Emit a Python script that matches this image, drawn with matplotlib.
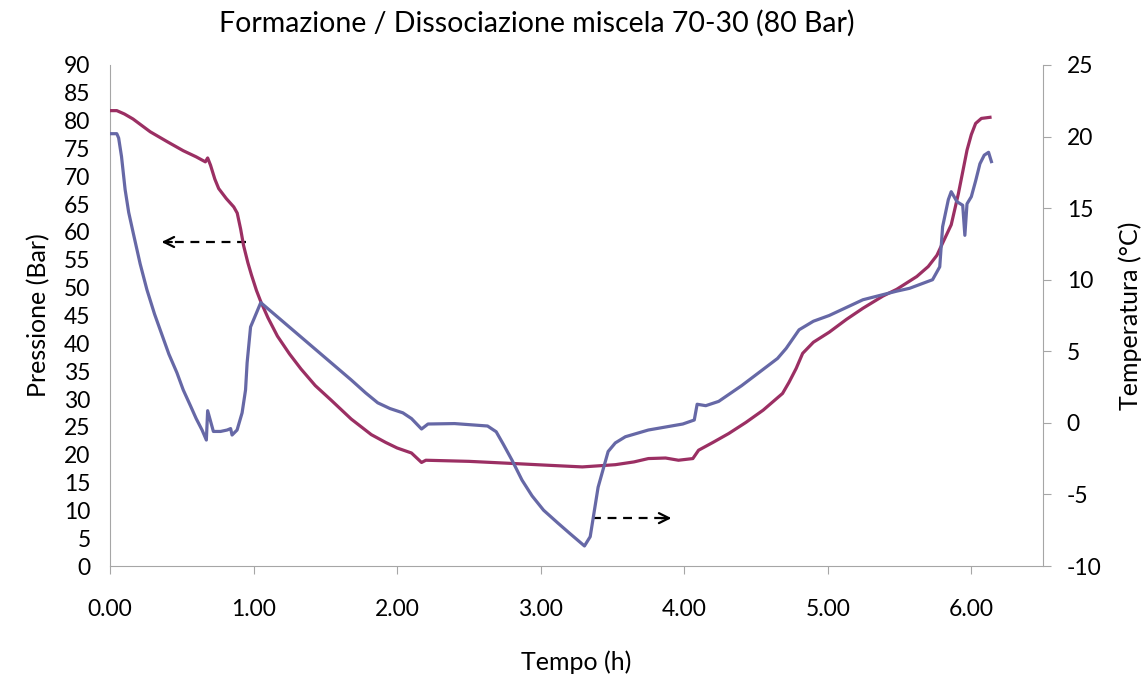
import matplotlib
matplotlib.use("Agg")
import matplotlib.pyplot as plt

plt.rcParams["font.family"] = ["Lato", "DejaVu Sans"]
plt.rcParams["axes.unicode_minus"] = False

# tempo (h) e pressione (Bar)
tempo_p = [0.00, 0.047, 0.10, 0.16, 0.28, 0.40, 0.51, 0.60, 0.664, 0.68, 0.70,
           0.73, 0.757, 0.81, 0.862, 0.886, 0.91, 0.93, 0.96, 0.985, 1.02, 1.05,
           1.10, 1.166, 1.25, 1.33, 1.43, 1.54, 1.68, 1.82, 1.92, 2.00, 2.10,
           2.17, 2.20, 2.50, 2.82, 3.05, 3.29, 3.52, 3.65, 3.75, 3.87, 3.96,
           4.06, 4.10, 4.20, 4.31, 4.43, 4.55, 4.685, 4.73, 4.78, 4.825, 4.90,
           5.01, 5.13, 5.245, 5.385, 5.48, 5.62, 5.70, 5.76, 5.80, 5.86, 5.91,
           5.97, 6.00, 6.03, 6.07, 6.13]
pressione = [81.8, 81.8, 81.2, 80.3, 78.0, 76.2, 74.6, 73.5, 72.6, 73.3, 72.0,
             69.5, 67.8, 66.0, 64.5, 63.4, 60.5, 57.6, 54.5, 52.3, 49.5, 47.5,
             44.6, 41.3, 38.1, 35.4, 32.4, 29.8, 26.4, 23.6, 22.2, 21.2, 20.3,
             18.6, 19.0, 18.8, 18.4, 18.1, 17.8, 18.2, 18.7, 19.3, 19.4, 19.0,
             19.3, 20.8, 22.2, 23.8, 25.8, 28.0, 31.0, 33.0, 35.5, 38.2, 40.2,
             42.0, 44.3, 46.3, 48.5, 49.7, 52.0, 53.8, 55.8, 58.0, 61.3, 66.9,
             74.7, 77.5, 79.5, 80.4, 80.6]

# tempo (h) e temperatura (°C)
tempo_t = [0.00, 0.047, 0.06, 0.08, 0.105, 0.13, 0.163, 0.21, 0.257, 0.31,
           0.36, 0.41, 0.466, 0.51, 0.56, 0.60, 0.641, 0.671, 0.68, 0.72, 0.77,
           0.816, 0.84, 0.85, 0.885, 0.92, 0.944, 0.955, 0.979, 1.00, 1.05,
           1.68, 1.78, 1.865, 1.95, 2.04, 2.10, 2.17, 2.215, 2.40, 2.63, 2.69,
           2.74, 2.80, 2.87, 2.94, 3.02, 3.12, 3.20, 3.305, 3.345, 3.40, 3.47,
           3.52, 3.59, 3.75, 3.99, 4.07, 4.09, 4.15, 4.24, 4.40, 4.545, 4.65,
           4.71, 4.80, 4.90, 5.01, 5.245, 5.48, 5.57, 5.73, 5.78, 5.80, 5.84,
           5.86, 5.90, 5.94, 5.955, 5.97, 6.00, 6.03, 6.06, 6.09, 6.12, 6.14]
temperatura = [20.2, 20.2, 19.9, 18.6, 16.3, 14.7, 13.2, 11.1, 9.3, 7.6,
               6.2, 4.8, 3.5, 2.3, 1.2, 0.3, -0.5, -1.2, 0.85, -0.6, -0.6,
               -0.5, -0.4, -0.85, -0.5, 0.7, 2.3, 4.2, 6.7, 7.2, 8.4,
               3.0, 2.1, 1.4, 1.0, 0.7, 0.3, -0.43, -0.08, -0.05, -0.22, -0.62,
               -1.5, -2.6, -4.0, -5.1, -6.1, -7.0, -7.7, -8.6, -7.95, -4.5, -2.0,
               -1.4, -0.97, -0.5, -0.08, 0.2, 1.3, 1.2, 1.5, 2.6, 3.7, 4.5,
               5.2, 6.5, 7.1, 7.5, 8.6, 9.2, 9.4, 10.0, 10.9, 13.7, 15.6,
               16.15, 15.45, 15.2, 13.1, 15.3, 15.8, 16.9, 18.1, 18.7, 18.9, 18.25]

fig = plt.figure(figsize=(11.45, 6.84), dpi=100)
ax = fig.add_axes([0.0961, 0.1725, 0.8149, 0.7325])
ax2 = ax.twinx()

ax.plot(tempo_p, pressione, color="#9B2F63", lw=2.3, zorder=3)
ax2.plot(tempo_t, temperatura, color="#6668A6", lw=2.3)

ax.set_xlim(0, 6.5)
ax.set_ylim(0, 90)
ax2.set_ylim(-10, 25)
ax.set_xticks([0, 1, 2, 3, 4, 5, 6])
ax.set_xticklabels(["0.00", "1.00", "2.00", "3.00", "4.00", "5.00", "6.00"])
ax.set_yticks(range(0, 91, 5))
ax2.set_yticks(range(-10, 26, 5))

grigio = "#A6A6A6"
for a in (ax, ax2):
    a.spines["top"].set_visible(False)
    for s in ("left", "right", "bottom"):
        a.spines[s].set_color(grigio)
ax.spines["right"].set_visible(False)
ax2.spines["left"].set_visible(False)
ax2.spines["bottom"].set_visible(False)

ax.tick_params(axis="y", length=0, pad=14, labelsize=16.5)
ax.tick_params(axis="x", length=6, color=grigio, pad=18, labelsize=16.5)
ax2.tick_params(axis="y", length=6, color=grigio, pad=11, labelsize=16.5)

ax.set_ylabel("Pressione (Bar)", fontsize=18, labelpad=10)
ax2.set_ylabel("Temperatura (°C)", fontsize=18, labelpad=12)
ax.set_xlabel("Tempo (h)", fontsize=18, labelpad=22)
fig.text(0.469, 0.966, "Formazione / Dissociazione miscela 70-30 (80 Bar)",
         ha="center", va="center", fontsize=20.5)

# frecce tratteggiate che indicano l'asse di ciascuna curva
ax.plot([0.944, 0.37], [58.2, 58.2], color="black", lw=1.6, ls=(0, (4, 3)))
ax.annotate("", xy=(0.34, 58.2), xytext=(0.45, 58.2),
            arrowprops=dict(arrowstyle="->", color="black", lw=1.6,
                            mutation_scale=18))
ax.plot([3.36, 3.90], [8.6, 8.6], color="black", lw=1.6, ls=(0, (4, 3)))
ax.annotate("", xy=(3.93, 8.6), xytext=(3.82, 8.6),
            arrowprops=dict(arrowstyle="->", color="black", lw=1.6,
                            mutation_scale=18))

fig.savefig("out.png", dpi=100)
